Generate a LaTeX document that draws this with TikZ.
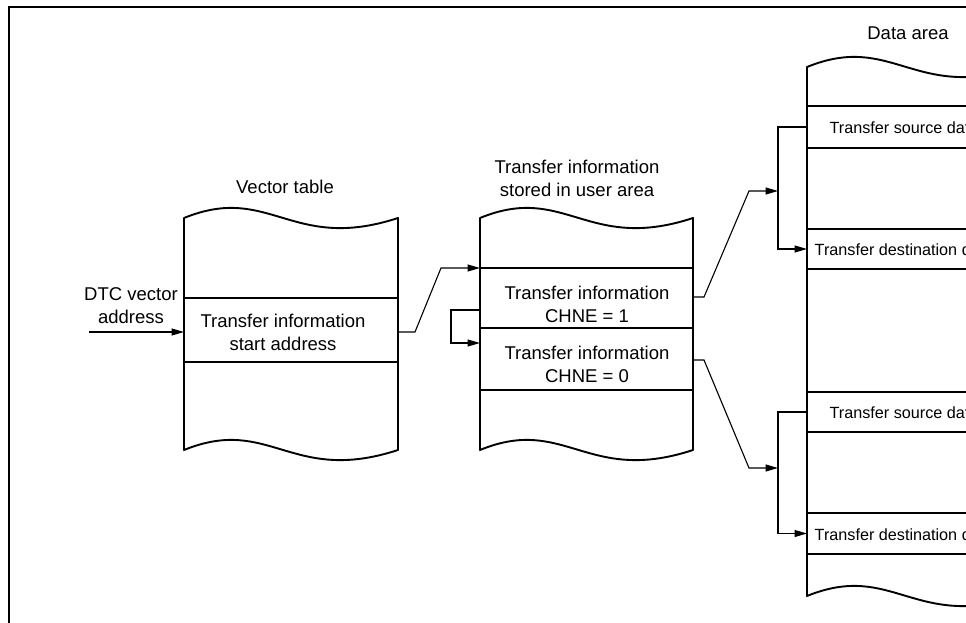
\documentclass[tikz,border=0pt]{standalone}
\usepackage{fontspec}
\setmainfont{Liberation Sans}
\usetikzlibrary{arrows.meta}
\tikzset{
  boxline/.style={line width=1.9pt, line join=round},
  cellline/.style={line width=1.2pt},
  conn/.style={line width=1.1pt, line join=miter},
  tip/.style={-{Triangle[length=12.5pt,width=7pt]}},
  cell/.style={draw=none, inner sep=0pt, outer sep=0pt, minimum width=214pt},
  lab/.style={inner sep=0pt, align=center, font=\fontsize{18.5}{23}\selectfont},
  small/.style={inner sep=0pt, align=center, font=\fontsize{16.2}{20}\selectfont},
}
\begin{document}
\begin{tikzpicture}[x=1pt,y=-1pt]
\useasboundingbox (0,0) rectangle (966,623);
\clip (0,0) rectangle (966,623);
% frame
\draw[line width=2.4pt] (9,640) -- (9,7) -- (990,7);

% ---- Vector table
\draw[boxline] (184,218) .. controls (270,183) and (291,253) .. (398,218)
  -- (398,450) .. controls (291,485) and (270,415) .. (184,450) -- cycle;
\node[cell, minimum height=64pt] (vtc) at (291,330) {};
\draw[cellline] (vtc.north west) -- (vtc.north east) (vtc.south west) -- (vtc.south east);
\node[lab] (vtlab) at (285,187) {Vector table};
\node[lab] (vttext) at (283,332) {Transfer information\\start address};
\node[lab] (dtclab) at (131,306) {DTC vector\\address};

% ---- Transfer information box
\draw[boxline] (480,218) .. controls (565,183) and (587,253) .. (693,218)
  -- (693,450) .. controls (587,485) and (565,415) .. (480,450) -- cycle;
\node[cell, minimum width=213pt, minimum height=60pt] (ti1) at (586.5,298) {};
\node[cell, minimum width=213pt, minimum height=62pt] (ti2) at (586.5,359) {};
\draw[cellline] (ti1.north west) -- (ti1.north east) (ti1.south west) -- (ti1.south east)
  (ti2.south west) -- (ti2.south east);
\node[lab] (tilab) at (577,178) {Transfer information\\stored in user area};
\node[lab] (ti1text) at (587,304) {Transfer information\\CHNE = 1};
\node[lab] (ti2text) at (587,364) {Transfer information\\CHNE = 0};

% ---- Data area
\draw[boxline] (807,67) .. controls (893,32) and (914,102) .. (1021,67)
  -- (1021,596) .. controls (914,631) and (893,561) .. (807,596) -- cycle;
\node[cell, minimum height=42pt] (src1) at (914,127) {};
\node[cell, minimum height=40pt] (dst1) at (914,249) {};
\node[cell, minimum height=40pt] (src2) at (914,412) {};
\node[cell, minimum height=41pt] (dst2) at (914,533.5) {};
\foreach \c in {src1,dst1,src2,dst2}
  \draw[cellline] (\c.north west) -- (\c.north east) (\c.south west) -- (\c.south east);
\node[lab] (dalab) at (908,33) {Data area};
\node[small] (src1text) at (904,128) {Transfer source data};
\node[small] (dst1text) at (904,250) {Transfer destination data};
\node[small] (src2text) at (904,413) {Transfer source data};
\node[small] (dst2text) at (904,535) {Transfer destination data};

% ---- connectors
\coordinate (dtcin) at (89,332);
\draw[conn,tip] (dtcin) -- (dtcin -| vtc.west);

\coordinate (k1) at (415,332);
\coordinate (k2) at (441,268);
\draw[conn,tip] (k1 -| vtc.east) -- (k1) -- (k2) -- (ti1.north west);

\coordinate (l1) at (451,310);
\coordinate (l2) at (451,343);
\draw[conn,tip] (l1 -| ti1.west) -- (l1) -- (l2) -- (l2 -| ti2.west);

\coordinate (u1) at (704,297);
\coordinate (u2) at (749,191);
\coordinate (u3) at (778,191);
\draw[conn,tip] (u1 -| ti1.east) -- (u1) -- (u2) -- (u3);
\draw[conn,tip] (src1.west) -- (src1.west -| u3) -- (dst1.west -| u3) -- (dst1.west);

\coordinate (d1) at (704,360);
\coordinate (d2) at (749,468);
\coordinate (d3) at (778,468);
\draw[conn,tip] (d1 -| ti2.east) -- (d1) -- (d2) -- (d3);
\draw[conn,tip] (src2.west) -- (src2.west -| d3) -- (dst2.west -| d3) -- (dst2.west);
\end{tikzpicture}
\end{document}
